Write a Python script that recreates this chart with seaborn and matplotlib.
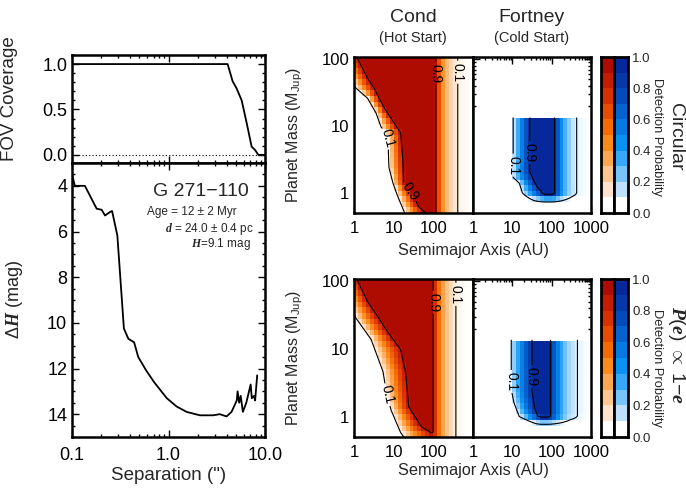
import numpy as np
import pandas as pd
import matplotlib
matplotlib.use("Agg")
import matplotlib.pyplot as plt
import seaborn as sns
from matplotlib.colors import LinearSegmentedColormap
from matplotlib.ticker import FixedLocator, FixedFormatter, LogLocator, NullFormatter, MultipleLocator

# ---------------- data ----------------
fov_sep = [0.1, 4.1, 4.62, 5.09, 5.73, 6.46, 7.27, 7.87, 8.52, 10.0]
fov_cov = [1.0, 1.0, 0.81, 0.73, 0.60, 0.35, 0.09, 0.055, 0.0, 0.0]

dh_sep = [0.1, 0.107, 0.136, 0.18, 0.203, 0.22, 0.247, 0.26, 0.295, 0.345, 0.384, 0.44,
          0.486, 0.59, 0.71, 0.96, 1.21, 1.54, 2.12, 2.9, 3.4, 4.0, 4.5, 5.1, 5.2, 5.4,
          5.6, 5.9, 6.4, 7.1, 7.3, 7.7, 7.9, 8.3]
dh_mag = [3.48, 4.0, 4.0, 5.0, 5.05, 5.3, 5.15, 5.1, 6.17, 10.25, 10.7, 10.85,
          11.5, 12.1, 12.6, 13.3, 13.66, 13.9, 14.05, 14.05, 14.0, 14.1, 13.9, 13.4, 13.0, 13.5,
          13.2, 13.9, 13.5, 12.7, 13.3, 13.2, 13.4, 12.3]

# Cond (hot start), circular orbits: inner contours (mass, semimajor axis) and outer profile
cond_c_m10 = [0.5, 0.87, 1.4, 2.4, 7.3, 9.7, 15.6, 26, 37, 110]
cond_c_a10 = [19, 12.8, 9.6, 7.6, 7.1, 4.8, 3.6, 2.2, 1.12, 0.4]
cond_c_m90 = [0.5, 0.62, 0.87, 1.4, 3.1, 7.9, 19, 37, 52, 110]
cond_c_a90 = [65, 43, 32, 18, 17, 15, 5.7, 3.2, 2.2, 1.15]
cond_c_outa = [1, 95, 110, 125, 145, 170, 200, 260, 330, 410, 600, 1000]
cond_c_outp = [1, 1, 0.95, 0.8, 0.6, 0.45, 0.33, 0.22, 0.15, 0.1, 0.07, 0.05]

# Cond, P(e) ~ 1-e
cond_e_m10 = [0.5, 0.58, 1.27, 2.5, 4.6, 13.8, 29, 110]
cond_e_a10 = [18, 15, 8.5, 6.4, 5.4, 2.7, 1.1, 0.45]
cond_e_m90 = [0.5, 0.58, 0.71, 1.4, 4.5, 9.8, 17.5, 30, 50, 110]
cond_e_a90 = [110, 87, 50, 24, 20, 15, 7.2, 4, 2.2, 1.15]
cond_e_outa = [1, 85, 95, 110, 130, 160, 200, 260, 370, 600, 1000]
cond_e_outp = [1, 1, 0.95, 0.78, 0.6, 0.42, 0.3, 0.2, 0.1, 0.06, 0.04]

# Fortney (cold start), circular
fort_c_m10 = [0.79, 1.0, 1.4, 1.7, 13.5]
fort_c_a10 = [25, 18, 15, 10.5, 10.5]
fort_c_m90 = [0.95, 1.05, 1.3, 2.05, 13.5]
fort_c_a90 = [60, 55, 40, 28, 28]
fort_c_rampm = [0.7, 0.73, 0.85, 0.95, 1.0]
fort_c_rampp = [0, 0.1, 0.5, 0.9, 1.0]
fort_c_outa = [1, 100, 115, 135, 160, 200, 260, 330, 430, 600, 1000]
fort_c_outp = [1, 1, 0.93, 0.75, 0.55, 0.38, 0.25, 0.16, 0.1, 0.07, 0.05]
fort_c_mmax = 13.6

# Fortney, P(e) ~ 1-e
fort_e_m10 = [0.81, 1.0, 1.6, 2.5, 13.8]
fort_e_a10 = [28, 15, 11, 9.4, 9.4]
fort_e_m90 = [0.98, 1.0, 1.27, 2.3, 13.8]
fort_e_a90 = [50, 45, 38, 31.6, 31.6]
fort_e_rampm = [0.72, 0.77, 0.88, 0.98, 1.02]
fort_e_rampp = [0, 0.1, 0.5, 0.9, 1.0]
fort_e_outa = [1, 80, 93, 110, 135, 170, 220, 300, 450, 650, 1000]
fort_e_outp = [1, 1, 0.9, 0.72, 0.55, 0.4, 0.27, 0.17, 0.1, 0.07, 0.05]
fort_e_mmax = 13.9

cbar_ticks = [0.0, 0.2, 0.4, 0.6, 0.8, 1.0]
red_colors = ['#ffffff', '#fde3cb', '#fdc590', '#fca650', '#fa8a1a',
              '#f56a05', '#e84c02', '#d83202', '#c41c00', '#ae0c00']
blue_colors = ['#ffffff', '#bde0fd', '#78c4fb', '#35a8f8', '#0a92f2',
               '#067ae2', '#0562cf', '#044cbb', '#0538a9', '#06289a']

# ---------------- style ----------------
sns.set_theme(style="ticks")
plt.rcParams['font.family'] = ['Liberation Sans', 'DejaVu Sans']
plt.rcParams['mathtext.fontset'] = 'custom'
plt.rcParams['mathtext.rm'] = 'Liberation Sans'
plt.rcParams['mathtext.it'] = 'Liberation Serif:italic:bold'
plt.rcParams['mathtext.bf'] = 'Liberation Serif:bold'
plt.rcParams['axes.linewidth'] = 1.8

W, H = 686, 488
fig = plt.figure(figsize=(6.86, 4.88), dpi=100)


def fa(l, t, r, b):
    return [l / W, 1 - b / H, (r - l) / W, (b - t) / H]


def style_ticks(ax, major=5, minor=2.5):
    ax.tick_params(which='both', direction='in', top=True, right=True,
                   colors='black', width=1.0)
    ax.tick_params(which='major', length=major)
    ax.tick_params(which='minor', length=minor)
    for s in ax.spines.values():
        s.set_linewidth(1.8)
        s.set_color('black')


# ---------------- left panels ----------------
ax_fov = fig.add_axes(fa(72, 55, 265, 163))
ax_dh = fig.add_axes(fa(72, 163, 265, 437))

fov_df = pd.DataFrame({'sep': fov_sep, 'cov': fov_cov})
sns.lineplot(data=fov_df, x='sep', y='cov', ax=ax_fov, color='black', lw=1.3,
             estimator=None, sort=False)
ax_fov.axhline(0.0, color='black', ls=(0, (1, 2)), lw=0.8)
ax_fov.set_xscale('log')
ax_fov.set_xlim(0.1, 10)
ax_fov.set_ylim(-0.09, 1.1)
ax_fov.yaxis.set_major_locator(FixedLocator([0.0, 0.5, 1.0]))
ax_fov.yaxis.set_major_formatter(FixedFormatter(['0.0', '0.5', '1.0']))
ax_fov.yaxis.set_minor_locator(MultipleLocator(0.1))
ax_fov.xaxis.set_minor_locator(LogLocator(subs=np.arange(2, 10)))
ax_fov.xaxis.set_major_formatter(NullFormatter())
ax_fov.xaxis.set_minor_formatter(NullFormatter())
ax_fov.set_xlabel('')
ax_fov.set_ylabel('FOV Coverage', fontsize=13.5)
ax_fov.yaxis.set_label_coords(-0.28, 0.6)
style_ticks(ax_fov)
ax_fov.tick_params(labelsize=13)

dh_df = pd.DataFrame({'sep': dh_sep, 'mag': dh_mag})
sns.lineplot(data=dh_df, x='sep', y='mag', ax=ax_dh, color='black', lw=1.3,
             estimator=None, sort=False)
ax_dh.set_xscale('log')
ax_dh.set_xlim(0.1, 10)
ax_dh.set_ylim(15, 3)
ax_dh.xaxis.set_major_locator(FixedLocator([0.1, 1.0, 10.0]))
ax_dh.xaxis.set_major_formatter(FixedFormatter(['0.1', '1.0', '10.0']))
ax_dh.xaxis.set_minor_locator(LogLocator(subs=np.arange(2, 10)))
ax_dh.xaxis.set_minor_formatter(NullFormatter())
ax_dh.yaxis.set_major_locator(FixedLocator([4, 6, 8, 10, 12, 14]))
ax_dh.yaxis.set_minor_locator(MultipleLocator(0.5))
ax_dh.set_xlabel('Separation (")', fontsize=13.5, labelpad=2)
ax_dh.set_ylabel(r'$\mathit{\Delta H}$ (mag)', fontsize=13)
ax_dh.yaxis.set_label_coords(-0.245, 0.5)
style_ticks(ax_dh)
ax_dh.tick_params(labelsize=13)
ax_dh.tick_params(axis='x', pad=7)

ax_dh.text(0.915, 0.895, 'G 271\u2212110', transform=ax_dh.transAxes, ha='right',
           va='center', fontsize=14)
ax_dh.text(0.855, 0.82, 'Age = 12 \u00b1 2 Myr', transform=ax_dh.transAxes, ha='right',
           va='center', fontsize=8.5)
ax_dh.text(0.94, 0.76, r'$\mathit{d}$ = 24.0 $\pm$ 0.4 pc', transform=ax_dh.transAxes,
           ha='right', va='center', fontsize=8.5)
ax_dh.text(0.925, 0.705, r'$\mathit{H}$=9.1 mag', transform=ax_dh.transAxes,
           ha='right', va='center', fontsize=8.5)

# ---------------- detection probability maps ----------------
cmap_red = LinearSegmentedColormap.from_list(
    'reds', [(0.0, red_colors[0])] + [((i + 0.5) / 10, c) for i, c in enumerate(red_colors)]
    + [(1.0, red_colors[-1])])
cmap_blue = LinearSegmentedColormap.from_list(
    'blues', [(0.0, blue_colors[0])] + [((i + 0.5) / 10, c) for i, c in enumerate(blue_colors)]
    + [(1.0, blue_colors[-1])])

a_edges = 10 ** np.arange(0, 3.0001, 0.1)
m_edges = 10 ** np.arange(np.log10(0.5), 2.05, 1 / 12)
a_cent = np.sqrt(a_edges[:-1] * a_edges[1:])
m_cent = np.sqrt(m_edges[:-1] * m_edges[1:])
a_fine = np.logspace(0, 3, 300)
m_fine = np.logspace(np.log10(0.5), np.log10(108), 300)


def prob_map(A, M, m10, a10, m90, a90, outa, outp, rampm=None, rampp=None, mmax=None):
    lm, la = np.log10(M), np.log10(A)
    l10 = np.interp(lm, np.log10(m10), np.log10(a10))
    l90 = np.interp(lm, np.log10(m90), np.log10(a90))
    pin = np.clip(0.1 + 0.8 * (la - l10) / (l90 - l10), 0, 1)
    p = pin * np.interp(la, np.log10(outa), outp)
    if rampm is not None:
        p = p * np.interp(lm, np.log10(rampm), rampp)
    if mmax is not None:
        p = np.ma.masked_where(M > mmax, p)
    return p


panels = [
    (fa(354, 57, 473, 213), cmap_red,
     (cond_c_m10, cond_c_a10, cond_c_m90, cond_c_a90, cond_c_outa, cond_c_outp),
     {}, [(6.0, 6.6), (23, 1.0), (123, 62), (390, 64)], True, False),
    (fa(473, 57, 591, 213), cmap_blue,
     (fort_c_m10, fort_c_a10, fort_c_m90, fort_c_a90, fort_c_outa, fort_c_outp),
     dict(rampm=fort_c_rampm, rampp=fort_c_rampp, mmax=fort_c_mmax),
     [(9.5, 2.6), (24, 4.0)], False, False),
    (fa(354, 279, 473, 437), cmap_red,
     (cond_e_m10, cond_e_a10, cond_e_m90, cond_e_a90, cond_e_outa, cond_e_outp),
     {}, [(6.8, 2.1), (100, 49), (350, 64)], True, True),
    (fa(473, 279, 591, 437), cmap_blue,
     (fort_e_m10, fort_e_a10, fort_e_m90, fort_e_a90, fort_e_outa, fort_e_outp),
     dict(rampm=fort_e_rampm, rampp=fort_e_rampp, mmax=fort_e_mmax),
     [(9.4, 3.3), (30, 3.9)], False, True),
]

for rect, cmap, arrs, kw, lab_pos, is_cond, bottom in panels:
    ax = fig.add_axes(rect)
    ax.set_xscale('log')
    ax.set_yscale('log')
    ax.set_xlim(1, 1000)
    ax.set_ylim(0.5, 108)
    AA, MM = np.meshgrid(a_cent, m_cent)
    P = prob_map(AA, MM, *arrs, **kw)
    ax.pcolormesh(a_edges, m_edges, P, cmap=cmap, vmin=0, vmax=1, shading='flat')
    AF, MF = np.meshgrid(a_fine, m_fine)
    PF = prob_map(AF, MF, *arrs, **kw)
    cs = ax.contour(a_fine, m_fine, PF, levels=[0.1, 0.9], colors='black', linewidths=0.8)
    ax.set_xlim(1, 1000)
    ax.set_ylim(0.5, 108)
    ax.clabel(cs, fmt={0.1: '0.1', 0.9: '0.9'}, fontsize=10, inline=True,
              inline_spacing=2, manual=lab_pos)
    ax.xaxis.set_major_locator(FixedLocator([1, 10, 100, 1000]))
    ax.xaxis.set_major_formatter(FixedFormatter(['1', '10', '100', '' if is_cond else '1000']))
    ax.xaxis.set_minor_locator(LogLocator(subs=np.arange(2, 10)))
    ax.xaxis.set_minor_formatter(NullFormatter())
    ax.yaxis.set_major_locator(FixedLocator([1, 10, 100]))
    if is_cond:
        ax.yaxis.set_major_formatter(FixedFormatter(['1', '10', '100']))
        ax.set_ylabel(r'Planet Mass (M$_{\mathrm{Jup}}$)', fontsize=11.5)
        ax.yaxis.set_label_coords(-0.41, 0.5)
    else:
        ax.yaxis.set_major_formatter(NullFormatter())
    ax.yaxis.set_minor_locator(LogLocator(subs=np.arange(2, 10)))
    ax.yaxis.set_minor_formatter(NullFormatter())
    style_ticks(ax, major=5, minor=2.5)
    ax.tick_params(labelsize=12)
    ax.tick_params(axis='x', pad=6)
    ax.set_xlabel('')

# column titles and shared x labels
fig.text(413 / W, 1 - 18 / H, 'Cond', ha='center', va='center', fontsize=14)
fig.text(413 / W, 1 - 38 / H, '(Hot Start)', ha='center', va='center', fontsize=10.5)
fig.text(532 / W, 1 - 18 / H, 'Fortney', ha='center', va='center', fontsize=14)
fig.text(532 / W, 1 - 38 / H, '(Cold Start)', ha='center', va='center', fontsize=10.5)
fig.text(473 / W, 1 - 251 / H, 'Semimajor Axis (AU)', ha='center', va='center', fontsize=11.7)
fig.text(473 / W, 1 - 470 / H, 'Semimajor Axis (AU)', ha='center', va='center', fontsize=11.7)

# ---------------- colour bars ----------------
cb_levels = np.linspace(0, 1, 11)
cb_vals = ((cb_levels[:-1] + cb_levels[1:]) / 2).reshape(-1, 1)
for top, bot, title, ttl_y, dp_y in [(57, 213, 'Circular', 137, 137),
                                     (279, 437, r'$\mathit{P(e)}$ $\propto$ 1$-$$\mathit{e}$', 355, 368)]:
    for (l, r), cmap in [((601, 614), cmap_red), ((614, 628), cmap_blue)]:
        cax = fig.add_axes(fa(l, top, r, bot))
        cax.pcolormesh([0, 1], cb_levels, cb_vals, cmap=cmap, vmin=0, vmax=1)
        cax.set_xlim(0, 1)
        cax.set_ylim(0, 1)
        cax.set_xticks([])
        for s in cax.spines.values():
            s.set_linewidth(2.0)
            s.set_color('black')
        if cmap is cmap_blue:
            cax.yaxis.tick_right()
            cax.set_yticks(cbar_ticks)
            cax.set_yticklabels(['%.1f' % t for t in cbar_ticks])
            cax.tick_params(axis='y', length=0, pad=3, labelsize=9.5)
        else:
            cax.set_yticks([])
    fig.text(657 / W, 1 - dp_y / H, 'Detection Probability', rotation=-90,
             ha='center', va='center', fontsize=9.3)
    fig.text(676 / W, 1 - ttl_y / H, title, rotation=-90, ha='center', va='center',
             fontsize=14)

fig.savefig('out.png', dpi=100)
